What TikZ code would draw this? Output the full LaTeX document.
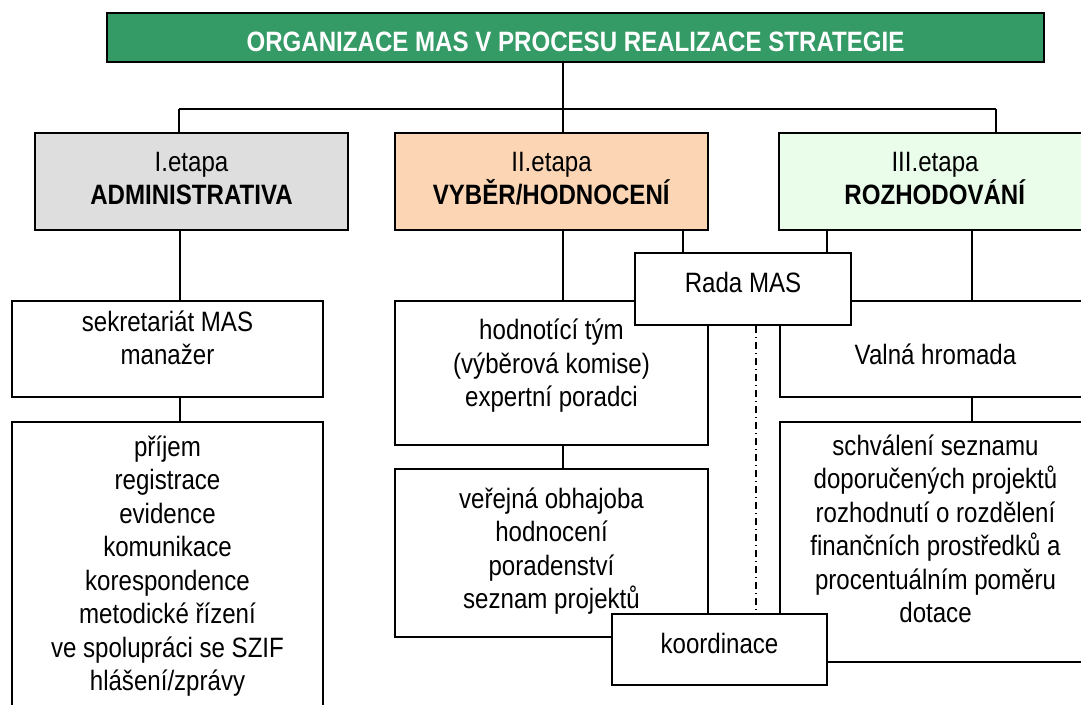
\documentclass[tikz,border=0pt]{standalone}
\usepackage{fontspec}
\setmainfont{Liberation Sans}[FakeStretch=0.86]
\usetikzlibrary{positioning}

\definecolor{titlegreen}{RGB}{52,154,102}
\definecolor{adminfill}{RGB}{222,222,222}
\definecolor{vyberfill}{RGB}{252,213,181}
\definecolor{rozhfill}{RGB}{234,252,234}

\tikzset{
  box/.style={draw=black, line width=2pt, fill=white, inner sep=0pt},
  txt/.style={align=center, inner sep=0pt, font=\fontsize{28}{33.5}\selectfont},
  link/.style={line width=2pt},
  dotdash/.style={line width=1.3pt, dash pattern=on 7pt off 4pt on 1pt off 4pt},
}

\begin{document}
\begin{tikzpicture}[x=1pt,y=-1pt]
    \useasboundingbox (0,0) rectangle (1081,704);

    % Title
    \node[box, fill=titlegreen, minimum width=937pt, minimum height=49pt] (title) at (575.5,37.5) {};
    \node[txt, text=white, font=\fontsize{28}{33.5}\selectfont\bfseries] (titletxt) at (575.5,42) {ORGANIZACE MAS V PROCESU REALIZACE STRATEGIE};

    % Stages
    \node[box, fill=adminfill, minimum width=313pt, minimum height=97pt] (st1) at (191.5,181.5) {};
    \node[txt] (st1txt) at (191.5,178.5) {I.etapa\\\textbf{ADMINISTRATIVA}};

    \node[box, fill=vyberfill, minimum width=313pt, minimum height=97pt] (st2) at (551.5,181.5) {};
    \node[txt] (st2txt) at (551.5,178.5) {II.etapa\\\textbf{VYBĚR/HODNOCENÍ}};

    \node[box, fill=rozhfill, minimum width=312pt, minimum height=97pt] (st3) at (935,181.5) {};
    \node[txt] (st3txt) at (935,178.5) {III.etapa\\\textbf{ROZHODOVÁNÍ}};

    % I. etapa
    \node[box, minimum width=311pt, minimum height=96pt] (sekr) at (167.5,349) {};
    \node[txt] (sekrtxt) at (167.5,338) {sekretariát MAS\\manažer};

    \node[box, minimum width=311pt, minimum height=298pt] (prijem) at (167.5,571) {};
    \node[txt] (prijemtxt) at (167.5,566) {příjem\\registrace\\evidence\\komunikace\\korespondence\\metodické řízení\\ve spolupráci se SZIF\\hlášení/zprávy};

    % II. etapa
    \node[box, minimum width=313pt, minimum height=144pt] (hodn) at (551.5,373) {};
    \node[txt] (hodntxt) at (551.5,366) {hodnotící tým\\(výběrová komise)\\expertní poradci};

    \node[box, minimum width=313pt, minimum height=168pt] (verej) at (551.5,553) {};
    \node[txt] (verejtxt) at (551.5,551) {veřejná obhajoba\\hodnocení\\poradenství\\seznam projektů};

    % III. etapa
    \node[box, minimum width=311pt, minimum height=96pt] (valna) at (935.5,349) {};
    \node[txt] (valnatxt) at (935.5,354) {Valná hromada};

    \node[box, minimum width=311pt, minimum height=240pt] (schval) at (935.5,542) {};
    \node[txt] (schvaltxt) at (935.5,529) {schválení seznamu\\doporučených projektů\\rozhodnutí o rozdělení\\finančních prostředků a\\procentuálním poměru\\dotace};

    % Rada MAS and koordinace
    \node[box, minimum width=216pt, minimum height=72pt] (rada) at (743,289) {};
    \node[txt] (radatxt) at (743,282) {Rada MAS};

    \node[box, minimum width=215pt, minimum height=71pt] (koord) at (719.5,649.5) {};
    \node[txt] (koordtxt) at (719.5,643) {koordinace};

    % Connectors
    \coordinate (bus) at (563,109);
    \coordinate (bus1) at (179,109);
    \coordinate (bus3) at (996,109);
    \draw[link] (title.south -| bus) -- (bus);
    \draw[link] (bus1) -- (bus3);
    \draw[link] (bus1) -- (bus1 |- st1.north);
    \draw[link] (bus) -- (bus |- st2.north);
    \draw[link] (bus3) -- (bus3 |- st3.north);

    \coordinate (col1) at (179.5,0);
    \draw[link] (col1 |- st1.south) -- (col1 |- sekr.north);
    \draw[link] (col1 |- sekr.south) -- (col1 |- prijem.north);

    \coordinate (col2) at (563,0);
    \coordinate (col2r) at (683,0);
    \draw[link] (col2 |- st2.south) -- (col2 |- hodn.north);
    \draw[link] (col2 |- hodn.south) -- (col2 |- verej.north);
    \draw[link] (col2r |- st2.south) -- (col2r |- rada.north);

    \coordinate (col3l) at (827,0);
    \coordinate (col3) at (972,0);
    \draw[link] (col3l |- st3.south) -- (col3l |- rada.north);
    \draw[link] (col3 |- st3.south) -- (col3 |- valna.north);
    \draw[link] (col3 |- valna.south) -- (col3 |- schval.north);

    \coordinate (mid) at (756,0);
    \draw[dotdash] (mid |- rada.south) -- (mid |- koord.north);
\end{tikzpicture}
\end{document}
